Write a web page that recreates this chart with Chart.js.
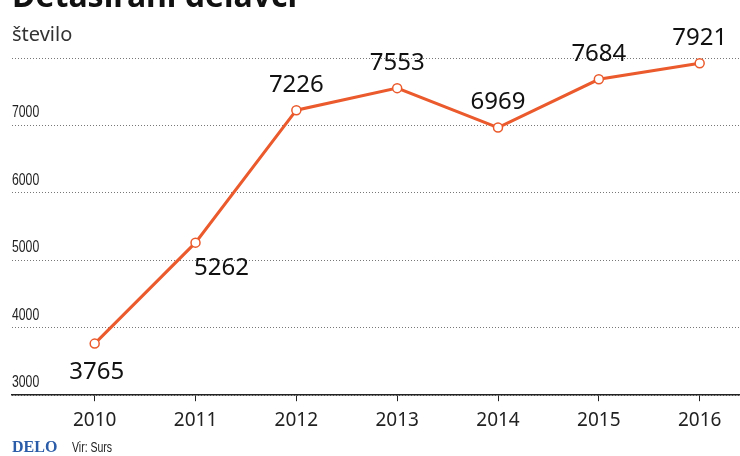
<!DOCTYPE html>
<html>
<head>
<meta charset="utf-8">
<script src="https://cdn.jsdelivr.net/npm/chart.js@4/dist/chart.umd.min.js"></script>
<style>
  html, body { margin: 0; padding: 0; background: #fff; }
  #wrap { position: relative; width: 740px; height: 456px; overflow: hidden; }
  #box { position: absolute; left: 0; top: 0; width: 740px; height: 456px; }
  .naslov { position: absolute; left: 12px; top: -27px; font: bold 32px "Noto Sans", sans-serif; color: #111; white-space: nowrap; }
  .enota { position: absolute; left: 12px; top: 20px; font: 20px "Noto Sans", sans-serif; color: #333; }
  .delo { position: absolute; left: 12px; top: 438px; font: bold 16px "Liberation Serif", serif; color: #2b5ca8; }
  .vir { position: absolute; left: 72px; top: 439px; font: 14px "Liberation Sans", sans-serif; color: #222; transform: scaleX(0.75); transform-origin: left top; }
</style>
</head>
<body>
<div id="wrap">
  <div id="box"><canvas id="graf"></canvas></div>
  <div class="naslov">Detaširani delavci</div>
  <div class="enota">število</div>
  <div class="delo">DELO</div>
  <div class="vir">Vir: Surs</div>
</div>
<script>
const leta = [2010, 2011, 2012, 2013, 2014, 2015, 2016];
const delavci = [3765, 5262, 7226, 7553, 6969, 7684, 7921];
const yTicks = [3000, 4000, 5000, 6000, 7000, 8000];
const yOznake = [3000, 4000, 5000, 6000, 7000];
// kam gre oznaka glede na točko
const oznakaPoz = ['spodaj', 'spodajDesno', 'zgoraj', 'zgoraj', 'zgoraj', 'zgoraj', 'zgoraj'];

const oranzna = '#ea5a2c';

const oznake = {
    id: 'oznake',
    afterDatasetsDraw(chart) {
        const ctx = chart.ctx;
        const meta = chart.getDatasetMeta(0);
        ctx.save();
        ctx.font = '24px "Noto Sans", sans-serif';
        ctx.fillStyle = '#111';
        ctx.textAlign = 'center';
        ctx.textBaseline = 'middle';
        meta.data.forEach((pt, i) => {
            let dx = 0, dy = -25;
            if (oznakaPoz[i] === 'spodaj') { dx = 2; dy = 29; }
            if (oznakaPoz[i] === 'spodajDesno') { dx = 26; dy = 26; }
            ctx.fillText(String(delavci[i]), pt.x + dx, pt.y + dy);
        });
        ctx.restore();
    }
};

// ozke oznake na osi y, nad mrežnimi črtami
const yNapisi = {
    id: 'yNapisi',
    afterDraw(chart) {
        const ctx = chart.ctx;
        const y = chart.scales.y;
        const left = chart.chartArea.left;
        ctx.save();
        ctx.font = '17px "Liberation Sans", sans-serif';
        ctx.fillStyle = '#222';
        ctx.textAlign = 'left';
        ctx.textBaseline = 'alphabetic';
        yOznake.forEach(v => {
            const py = y.getPixelForValue(v) - 8;
            ctx.save();
            ctx.translate(left, py);
            ctx.scale(0.72, 1);
            ctx.fillText(String(v), 0, 0);
            ctx.restore();
        });
        ctx.restore();
    }
};

new Chart(document.getElementById('graf').getContext('2d'), {
    type: 'line',
    data: {
        datasets: [{
            data: leta.map((l, i) => ({ x: l, y: delavci[i] })),
            borderColor: oranzna,
            borderWidth: 3,
            pointRadius: 4.5,
            pointBorderWidth: 1.5,
            pointBackgroundColor: '#fff',
            pointBorderColor: oranzna,
            tension: 0,
            clip: false
        }]
    },
    options: {
        responsive: true,
        maintainAspectRatio: false,
        animation: false,
        layout: { autoPadding: false, padding: { left: 12, right: 0, top: 58, bottom: 16 } },
        plugins: {
            legend: { display: false },
            tooltip: { enabled: false }
        },
        scales: {
            x: {
                type: 'linear',
                min: 2009.18,
                max: 2016.4,
                afterBuildTicks: axis => { axis.ticks = leta.map(v => ({ value: v })); },
                afterFit: axis => { axis.paddingLeft = 0; axis.paddingRight = 0; },
                grid: { drawOnChartArea: false, drawTicks: true, tickLength: 6, color: '#222', lineWidth: 1 },
                border: { display: true, color: '#222', width: 1.5 },
                ticks: {
                    color: '#222',
                    padding: 8,
                    font: { family: '"Noto Sans", sans-serif', size: 19 },
                    callback: v => String(v)
                }
            },
            y: {
                min: 3000,
                max: 8000,
                afterBuildTicks: axis => { axis.ticks = yTicks.map(v => ({ value: v })); },
                border: { display: false, dash: [1, 2] },
                grid: {
                    drawTicks: false,
                    color: '#777',
                    lineWidth: 1
                },
                ticks: { display: false }
            }
        }
    },
    plugins: [oznake, yNapisi]
});
</script>
</body>
</html>
